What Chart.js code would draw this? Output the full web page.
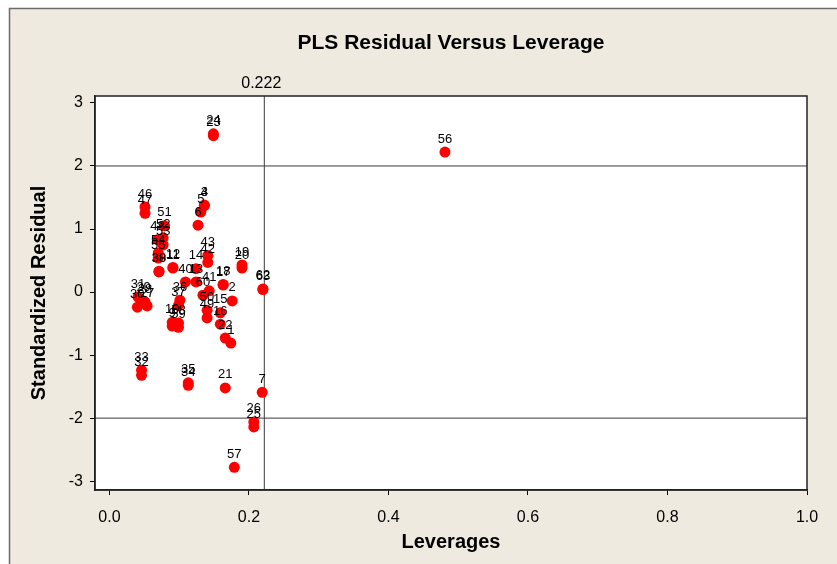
<!DOCTYPE html>
<html>
<head>
<meta charset="utf-8">
<script src="https://cdn.jsdelivr.net/npm/chart.js@4.4.1/dist/chart.umd.min.js"></script>
<style>
  html, body { margin: 0; padding: 0; background: #ffffff; }
  #wrap { width: 837px; height: 564px; position: relative; }
</style>
</head>
<body>
<div id="wrap"><canvas id="c"></canvas></div>
<script>
// ---- data ----
const pointLabels = ['1','2','3','4','5','6','7','9','10','11','12','13','14','15','16','17','18','19','20','21','22','23','24','25','26','27','28','29','30','31','32','33','34','35','36','37','38','39','40','41','42','43','46','47','48','49','50','51','52','53','54','55','56','57','58','59','60','62','63'];
const leverages = [0.174,0.176,0.136,0.136,0.131,0.127,0.219,0.090,0.090,0.091,0.091,0.124,0.124,0.159,0.159,0.163,0.163,0.190,0.190,0.166,0.166,0.149,0.149,0.207,0.207,0.054,0.051,0.049,0.040,0.041,0.046,0.046,0.113,0.113,0.101,0.099,0.071,0.071,0.109,0.143,0.141,0.141,0.051,0.051,0.069,0.140,0.140,0.079,0.077,0.077,0.070,0.070,0.481,0.179,0.099,0.099,0.134,0.220,0.220];
const residuals = [-0.81,-0.14,1.38,1.37,1.27,1.06,-1.59,-0.54,-0.48,0.38,0.39,0.16,0.37,-0.33,-0.51,0.11,0.12,0.43,0.38,-1.52,-0.73,2.48,2.51,-2.14,-2.06,-0.22,-0.16,-0.14,-0.24,-0.08,-1.32,-1.24,-1.48,-1.44,-0.13,-0.21,0.32,0.33,0.16,0.02,0.47,0.58,1.35,1.25,0.83,-0.41,-0.29,1.05,0.86,0.75,0.62,0.54,2.22,-2.78,-0.49,-0.56,-0.05,0.05,0.04];
const xTicks = [0.0, 0.2, 0.4, 0.6, 0.8, 1.0];
const yTicks = [-3, -2, -1, 0, 1, 2, 3];
const xRange = [-0.0207, 1.0];
const yRange = [-3.14, 3.11];
const refX = [0.222];
const refY = [2, -2];
const chartTitle = 'PLS Residual Versus Leverage';
const xTitle = 'Leverages';
const yTitle = 'Standardized Residual';

const FAMILY = '"Liberation Sans", Arial, Helvetica, sans-serif';
const BEIGE = '#efeae0';

const points = leverages.map((x, i) => ({ x: x, y: residuals[i] }));

const refDatasets = [];
refY.forEach(v => refDatasets.push({
  type: 'line', data: [{ x: xRange[0], y: v }, { x: xRange[1], y: v }],
  borderColor: '#3a3a3a', borderWidth: 1, pointRadius: 0, fill: false, order: 2
}));
refX.forEach(v => refDatasets.push({
  type: 'line', data: [{ x: v, y: yRange[0] }, { x: v, y: yRange[1] }],
  borderColor: '#3a3a3a', borderWidth: 1, pointRadius: 0, fill: false, order: 2
}));

const framePlugin = {
  id: 'frame',
  beforeDraw(chart) {
    const { ctx, width, height, chartArea: a } = chart;
    ctx.save();
    ctx.fillStyle = '#ffffff';
    ctx.fillRect(0, 0, width, height);
    ctx.fillStyle = BEIGE;
    ctx.fillRect(9, 8, width - 9, height - 8);
    ctx.strokeStyle = '#6b6b6b';
    ctx.lineWidth = 1.5;
    ctx.beginPath();
    ctx.moveTo(9.5, height);
    ctx.lineTo(9.5, 8.5);
    ctx.lineTo(width, 8.5);
    ctx.stroke();
    ctx.fillStyle = '#ffffff';
    ctx.fillRect(a.left, a.top, a.right - a.left, a.bottom - a.top);
    ctx.restore();
  },
  afterDatasetsDraw(chart) {
    const { ctx } = chart;
    const meta = chart.getDatasetMeta(0);
    ctx.save();
    ctx.font = '13px ' + FAMILY;
    ctx.fillStyle = '#000';
    ctx.textAlign = 'center';
    ctx.textBaseline = 'middle';
    meta.data.forEach((pt, i) => {
      ctx.fillText(pointLabels[i], pt.x, pt.y - 13);
    });
    ctx.restore();
  },
  afterDraw(chart) {
    const { ctx, chartArea: a } = chart;
    ctx.save();
    ctx.strokeStyle = '#222';
    ctx.lineWidth = 1.5;
    ctx.strokeRect(a.left, a.top, a.right - a.left, a.bottom - a.top);
    ctx.font = '16px ' + FAMILY;
    ctx.fillStyle = '#000';
    ctx.textAlign = 'center';
    ctx.textBaseline = 'middle';
    refX.forEach(v => {
      const px = chart.scales.x.getPixelForValue(v);
      ctx.fillText(v.toFixed(3), px - 3, a.top - 12);
    });
    ctx.restore();
  }
};

new Chart(document.getElementById('c'), {
  type: 'scatter',
  data: {
    datasets: [{
      data: points,
      backgroundColor: '#ff0000',
      borderColor: '#ff0000',
      borderWidth: 0,
      pointRadius: 5.5,
      pointHoverRadius: 5.5,
      order: 1
    }].concat(refDatasets)
  },
  options: {
    responsive: true,
    maintainAspectRatio: false,
    animation: false,
    events: [],
    layout: { padding: { left: 0, right: 30, top: 0, bottom: 0 } },
    plugins: {
      legend: { display: false },
      tooltip: { enabled: false },
      title: {
        display: true,
        fullSize: false,
        text: chartTitle,
        color: '#000',
        font: { family: FAMILY, size: 21, weight: 'bold', lineHeight: 1.2 },
        padding: { top: 31, bottom: 39.8 }
      }
    },
    scales: {
      x: {
        type: 'linear',
        min: xRange[0],
        max: xRange[1],
        afterBuildTicks: s => { s.ticks = xTicks.map(v => ({ value: v })); },
        afterFit: s => { s.height = 74; },
        ticks: {
          callback: v => Number(v).toFixed(1),
          color: '#000',
          font: { family: FAMILY, size: 16 },
          padding: 13,
          maxRotation: 0,
          autoSkip: false
        },
        grid: { display: true, drawOnChartArea: false, drawTicks: true, tickLength: 5, color: '#000', lineWidth: 1 },
        border: { display: true, color: '#222', width: 1.5 },
        title: {
          display: true, text: xTitle, color: '#000',
          font: { family: FAMILY, size: 20, weight: 'bold', lineHeight: 1.2 },
          padding: { top: 0, bottom: 10 }
        }
      },
      y: {
        type: 'linear',
        min: yRange[0],
        max: yRange[1],
        afterBuildTicks: s => { s.ticks = yTicks.map(v => ({ value: v })); },
        afterFit: s => { s.width = 95; },
        ticks: {
          callback: v => String(v),
          color: '#000',
          font: { family: FAMILY, size: 16 },
          padding: 7,
          autoSkip: false
        },
        grid: { display: true, drawOnChartArea: false, drawTicks: true, tickLength: 5, color: '#000', lineWidth: 1 },
        border: { display: true, color: '#222', width: 1.5 },
        title: {
          display: true, text: yTitle, color: '#000',
          font: { family: FAMILY, size: 20, weight: 'bold', lineHeight: 1.2 },
          padding: { top: 27, bottom: 0 }
        }
      }
    }
  },
  plugins: [framePlugin]
});
</script>
</body>
</html>
